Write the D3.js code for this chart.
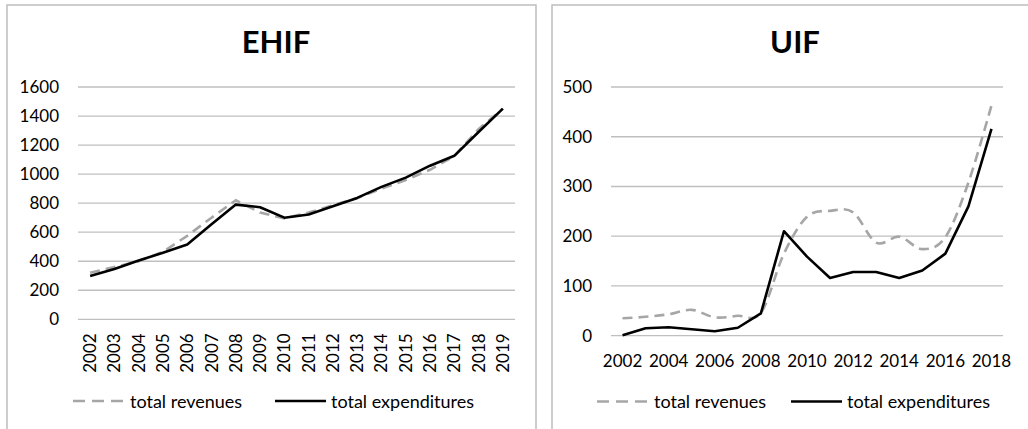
<!DOCTYPE html>
<html>
<head>
<meta charset="utf-8">
<script src="https://cdn.jsdelivr.net/npm/d3@7"></script>
<style>
  body { margin: 0; background: #fff; }
  svg { font-family: Lato, "Open Sans", sans-serif; }
</style>
</head>
<body>
<div id="chart"></div>
<script>
// EHIF data
const ehifYears = d3.range(2002, 2020).map(String);
const ehifRevenues = [320, 360, 400, 465, 575, 700, 820, 735, 695, 735, 785, 835, 900, 960, 1030, 1125, 1310, 1450];
const ehifExpenditures = [298, 346, 405, 458, 515, 655, 790, 772, 700, 722, 778, 836, 912, 976, 1058, 1126, 1290, 1451];
const ehifTicks = [0, 200, 400, 600, 800, 1000, 1200, 1400, 1600];

// UIF data
const uifYears = d3.range(2002, 2019).map(String);
const uifRevenues = [35, 38, 43, 52, 37, 40, 46, 165, 239, 251, 248, 187, 199, 174, 198, 308, 463];
const uifExpenditures = [1, 15, 17, 13, 9, 16, 45, 210, 159, 116, 128, 128, 116, 131, 165, 260, 416];
const uifTicks = [0, 100, 200, 300, 400, 500];

const legendLabels = ["total revenues", "total expenditures"];

const W = 1028, H = 429;
const svg = d3.select("#chart").append("svg")
  .attr("width", W).attr("height", H);

function panel(opt) {
  const g = svg.append("g");
  // frame
  g.append("path")
    .attr("d", `M${opt.frame[0]},${H + 2}V${opt.frame[1]}H${opt.frame[2]}V${H + 2}`)
    .attr("fill", "none").attr("stroke", "#bdbdbd").attr("stroke-width", 1.5);

  g.append("text")
    .attr("x", opt.titleX).attr("y", 53)
    .attr("text-anchor", "middle")
    .attr("font-size", 31).attr("font-weight", "bold")
    .text(opt.title);

  const x = d3.scaleBand().domain(opt.years).range([opt.left, opt.right]);
  const y = d3.scaleLinear().domain([0, opt.max]).range([opt.bottom, 87]);

  g.append("g").selectAll("line").data(opt.ticks).join("line")
    .attr("x1", opt.left).attr("x2", opt.right)
    .attr("y1", d => y(d)).attr("y2", d => y(d))
    .attr("stroke", "#bfbfbf").attr("stroke-width", 1.3);

  g.append("g").selectAll("text").data(opt.ticks).join("text")
    .attr("x", opt.left - 19).attr("y", d => y(d) + 6)
    .attr("text-anchor", "end").attr("font-size", 17)
    .text(d => d);

  const cx = d => x(d) + x.bandwidth() / 2;
  if (opt.rotate) {
    g.append("g").selectAll("text").data(opt.years).join("text")
      .attr("transform", d => `translate(${cx(d) + 6},${opt.bottom + 14}) rotate(-90)`)
      .attr("text-anchor", "end").attr("font-size", 17)
      .text(d => d);
  } else {
    g.append("g").selectAll("text").data(opt.years.filter((d, i) => i % 2 === 0)).join("text")
      .attr("x", cx).attr("y", opt.bottom + 31)
      .attr("text-anchor", "middle").attr("font-size", 17)
      .text(d => d);
  }

  const revLine = d3.line().x((d, i) => cx(opt.years[i])).y(d => y(d))
    .curve(opt.smooth ? d3.curveCatmullRom.alpha(0) : d3.curveLinear);
  const expLine = d3.line().x((d, i) => cx(opt.years[i])).y(d => y(d));

  g.append("path").datum(opt.rev).attr("d", revLine)
    .attr("fill", "none").attr("stroke", "#a6a6a6").attr("stroke-width", 2.6)
    .attr("stroke-dasharray", "10,6");
  g.append("path").datum(opt.exp).attr("d", expLine)
    .attr("fill", "none").attr("stroke", "#000").attr("stroke-width", 2.6)
    .attr("stroke-linejoin", "round");

  // legend
  const ly = opt.legendY;
  g.append("line").attr("x1", opt.leg[0]).attr("x2", opt.leg[0] + 52)
    .attr("y1", ly).attr("y2", ly)
    .attr("stroke", "#a6a6a6").attr("stroke-width", 2.6).attr("stroke-dasharray", "12,7");
  g.append("text").attr("x", opt.leg[0] + 57).attr("y", ly + 6.5)
    .attr("font-size", 18).text(legendLabels[0]);
  g.append("line").attr("x1", opt.leg[1]).attr("x2", opt.leg[1] + 51)
    .attr("y1", ly).attr("y2", ly)
    .attr("stroke", "#000").attr("stroke-width", 2.6);
  g.append("text").attr("x", opt.leg[1] + 56).attr("y", ly + 6.5)
    .attr("font-size", 18).text(legendLabels[1]);
}

panel({
  title: "EHIF", titleX: 276, frame: [7, 5, 536],
  years: ehifYears, rev: ehifRevenues, exp: ehifExpenditures, ticks: ehifTicks,
  max: 1600, left: 78, right: 515, bottom: 319.3, rotate: true,
  legendY: 401, leg: [73, 275], smooth: false
});

panel({
  title: "UIF", titleX: 795, frame: [552, 5, 1040],
  years: uifYears, rev: uifRevenues, exp: uifExpenditures, ticks: uifTicks,
  max: 500, left: 611, right: 1003, bottom: 335.7, rotate: false,
  legendY: 401.5, leg: [597, 791], smooth: true
});
</script>
</body>
</html>
